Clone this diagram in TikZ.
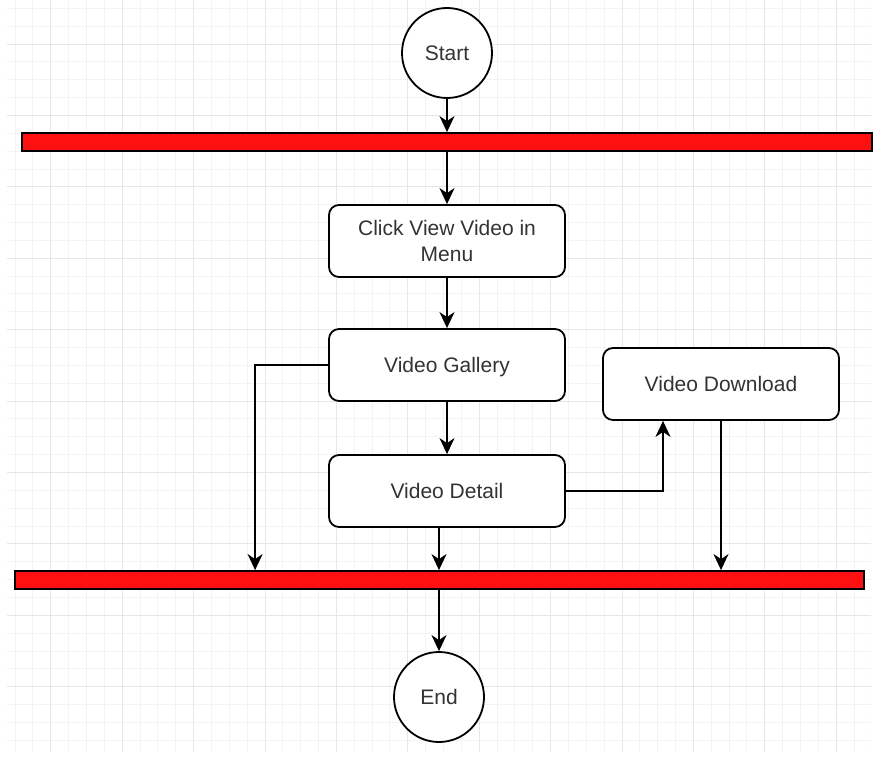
\documentclass[tikz,border=0pt]{standalone}
\usepackage{fontspec}
\setmainfont{Liberation Sans}
\usetikzlibrary{arrows.meta}
\definecolor{barred}{HTML}{FF1010}
\definecolor{gridminor}{HTML}{F3F3F3}
\definecolor{gridmajor}{HTML}{E6E6E6}
\begin{document}
\begin{tikzpicture}[x=1pt,y=-1pt,line width=1.8pt,
  every node/.style={font=\fontsize{21}{26}\selectfont,text=black!80},
  state/.style={circle,draw,fill=white,minimum size=90pt,inner sep=0pt},
  bar/.style={rectangle,draw,fill=barred,minimum height=18pt,inner sep=0pt},
  activity/.style={rectangle,rounded corners=10pt,draw,fill=white,minimum width=236pt,minimum height=72pt,align=center,inner sep=0pt,text depth=0pt},
  flow/.style={-{Stealth[length=16pt,width=15pt,inset=5pt]}}]
\fill[white] (0,0) rectangle (878,759);
\useasboundingbox (0,0) rectangle (878,759);
% grid
\begin{scope}[line width=0.8pt]
\clip (7,0) rectangle (871,752);
\foreach \k in {-3,...,46} \draw[gridminor] ({50.7+17.85*\k},0) -- ++(0,752);
\foreach \k in {-3,...,42} \draw[gridminor] (0,{44+17.85*\k}) -- ++(878,0);
\foreach \k in {0,...,11} \draw[gridmajor] ({50.7+71.4*\k},0) -- ++(0,752);
\foreach \k in {0,...,10} \draw[gridmajor] (0,{44+71.4*\k}) -- ++(878,0);
\end{scope}
% nodes
\node[state] (start) at (447,53) {Start};
\node[bar,minimum width=850pt] (fork) at (447,142) {};
\node[activity] (menu) at (447,241) {Click View Video in\\Menu};
\node[activity] (gallery) at (447,365) {Video Gallery};
\node[activity] (detail) at (447,491) {Video Detail};
\node[activity] (download) at (721,384) {Video Download};
\node[bar,minimum width=849pt] (join) at (439.5,580) {};
\node[state] (end) at (439,697) {End};
% flows
\draw[flow] (start) -- (fork);
\draw[flow] (fork) -- (menu);
\draw[flow] (menu) -- (gallery);
\draw[flow] (gallery) -- (detail);
\draw[flow] (gallery.west) -| ([xshift=241pt]join.north west);
\draw[flow] (detail.south -| end.north) -- (end.north |- join.north);
\draw[flow] (detail.east) -| ([xshift=-58pt]download.south);
\draw[flow] (download.south) -- (download.south |- join.north);
\draw[flow] (join.south -| end.north) -- (end.north);
\end{tikzpicture}
\end{document}
